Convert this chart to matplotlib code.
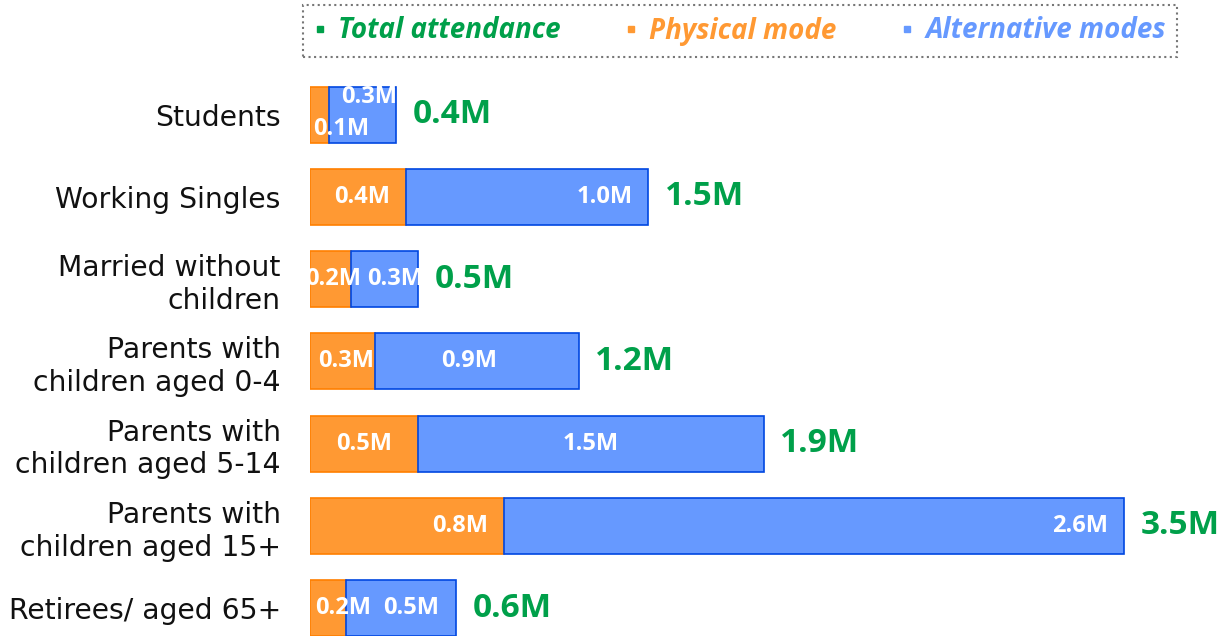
import matplotlib.pyplot as plt
from matplotlib.lines import Line2D

groups = ["Students", "Working Singles", "Married without\nchildren",
          "Parents with\nchildren aged 0-4", "Parents with\nchildren aged 5-14",
          "Parents with\nchildren aged 15+", "Retirees/ aged 65+"]
physical = [0.08, 0.40, 0.17, 0.27, 0.45, 0.81, 0.15]
alternative = [0.28, 1.01, 0.28, 0.85, 1.44, 2.58, 0.46]
physical_labels = ["0.1M", "0.4M", "0.2M", "0.3M", "0.5M", "0.8M", "0.2M"]
alternative_labels = ["0.3M", "1.0M", "0.3M", "0.9M", "1.5M", "2.6M", "0.5M"]
total_labels = ["0.4M", "1.5M", "0.5M", "1.2M", "1.9M", "3.5M", "0.6M"]

# label spots inside each segment (fraction of segment width), hand placed in the original
phys_pos = [1.65, 0.54, 0.57, 0.55, 0.5, 0.77, 0.92]
alt_pos = [0.59, 0.82, 0.66, 0.46, 0.5, 0.93, 0.59]
phys_dy = [0.18, 0, 0, 0, 0, 0, 0]
alt_dy = [-0.21, 0, 0, 0, 0, 0, 0]

green = "#00A04A"
orange = "#FF9933"
orange_edge = "#FF7F00"
blue = "#6699FF"
blue_edge = "#0047E0"

fig = plt.figure(figsize=(12.18, 6.36), dpi=100)
ax = fig.add_axes([310 / 1218, 0, 908 / 1218, 556 / 636])

y = list(range(len(groups)))
ax.barh(y, physical, height=0.68, color=orange, edgecolor=orange_edge, linewidth=1.2)
ax.barh(y, alternative, left=physical, height=0.68, color=blue, edgecolor=blue_edge, linewidth=1.2)

num_font = dict(family="Open Sans", weight="bold")
for i in y:
    p, a = physical[i], alternative[i]
    ax.text(p * phys_pos[i], i + phys_dy[i], physical_labels[i], color="white",
            ha="center", va="center", fontsize=17, **num_font)
    ax.text(p + a * alt_pos[i], i + alt_dy[i], alternative_labels[i], color="white",
            ha="center", va="center", fontsize=17, **num_font)
    ax.annotate(total_labels[i], xy=(p + a, i), xytext=(12, 0), textcoords="offset points",
                color=green, ha="left", va="center", fontsize=24, **num_font)

ax.set_xlim(0, 908 / 240)
ax.set_ylim(6.34, -0.42)
ax.set_yticks(y)
ax.set_yticklabels(groups, fontsize=20.3, linespacing=1.22, color="#111111")
ax.tick_params(axis="y", length=0, pad=21)
ax.set_xticks([])
for s in ax.spines.values():
    s.set_visible(False)

handles = [Line2D([], [], marker="s", ls="", color=c, markersize=4) for c in (green, orange, blue)]
leg = fig.legend(handles, ["Total attendance", "Physical mode", "Alternative modes"],
                 loc="center", bbox_to_anchor=(740 / 1218, 1 - 31 / 636), ncol=3,
                 prop=dict(family="Open Sans", weight="bold", style="italic", size=20),
                 labelcolor=[green, orange, blue], columnspacing=2.35,
                 handlelength=0.4, handletextpad=0.45, borderpad=0.4,
                 fancybox=False, frameon=True)
frame = leg.get_frame()
frame.set_edgecolor("#555555")
frame.set_linestyle(":")
frame.set_linewidth(1.5)

fig.savefig("out.png", dpi=100)
